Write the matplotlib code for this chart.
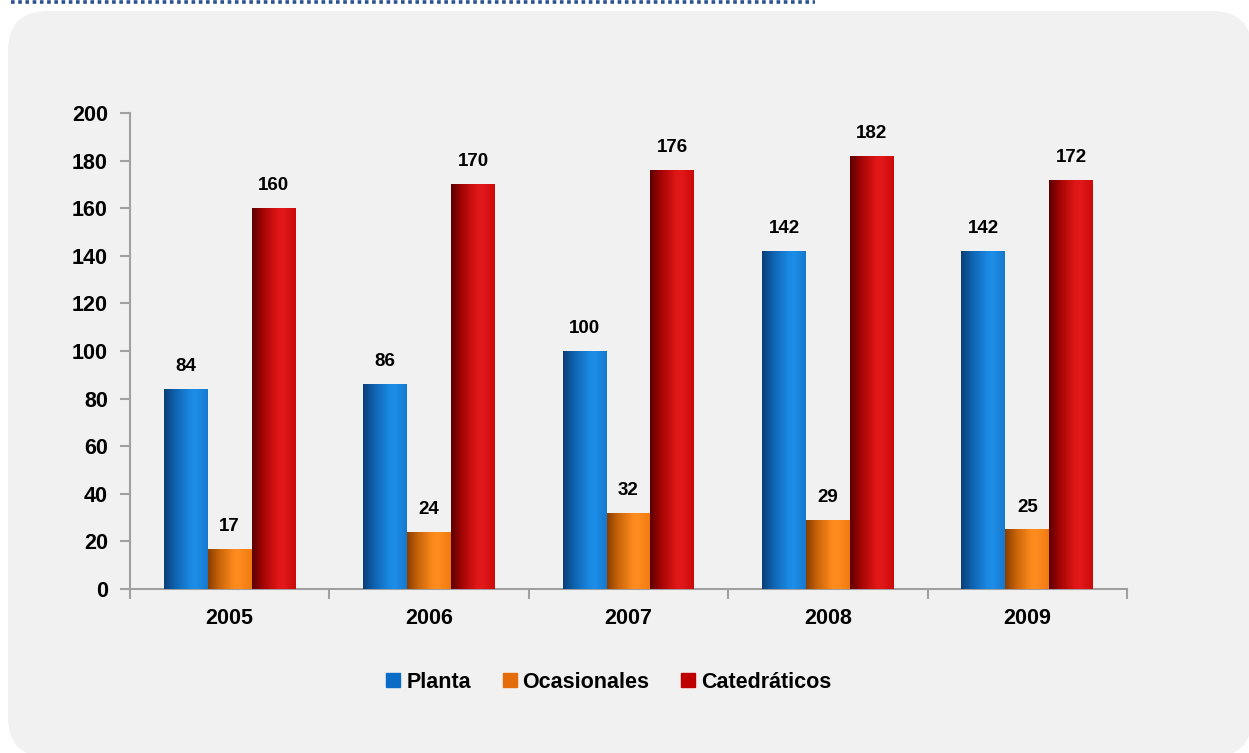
import matplotlib
matplotlib.use('Agg')
import matplotlib.pyplot as plt
import numpy as np
from matplotlib.colors import LinearSegmentedColormap
from matplotlib.patches import FancyBboxPatch
from matplotlib.lines import Line2D

years = ['2005', '2006', '2007', '2008', '2009']
planta = [84, 86, 100, 142, 142]
ocasionales = [17, 24, 32, 29, 25]
catedraticos = [160, 170, 176, 182, 172]
series_names = ['Planta', 'Ocasionales', 'Catedráticos']

plt.rcParams['font.family'] = ['Liberation Sans', 'DejaVu Sans']
plt.rcParams['font.weight'] = 'bold'

flat_colors = ['#0A6CC4', '#E46C0A', '#C00000']
shades = [
    ['#0b3f78', '#0f63b0', '#1a88e2', '#1e8ee8', '#1679cf'],
    ['#8a3e00', '#c8640a', '#ff8a1c', '#ff8c20', '#f07a10'],
    ['#5e0000', '#a50505', '#e01616', '#e2191c', '#cc0a0a'],
]

fig = plt.figure(figsize=(12.49, 7.53), dpi=100)

# background card
bg = fig.add_axes([0, 0, 1, 1], zorder=-1)
bg.set_xlim(0, 1249)
bg.set_ylim(753, 0)
bg.axis('off')
card = FancyBboxPatch((8, 11), 1244, 746, boxstyle='round,pad=0,rounding_size=40',
                      facecolor='#f1f1f1', edgecolor='none')
bg.add_patch(card)
bg.plot([11, 815], [2, 2], color='#2a5190', lw=2.6, linestyle=(0, (1, 1)))

ax = fig.add_axes([0.1041, 0.2178, 0.7982, 0.6322])
ax.set_facecolor('none')

x = np.arange(len(years))
w = 0.22
all_series = [planta, ocasionales, catedraticos]
grad = np.linspace(0, 1, 64).reshape(1, -1)
for i, vals in enumerate(all_series):
    cmap = LinearSegmentedColormap.from_list('s%d' % i, list(zip([0, 0.25, 0.6, 0.72, 1.0], shades[i])))
    bars = ax.bar(x + (i - 1) * w, vals, w, color=flat_colors[i], zorder=2)
    for b, v in zip(bars, vals):
        x0, y0 = b.get_x(), b.get_y()
        im = ax.imshow(grad, cmap=cmap, aspect='auto', extent=[x0, x0 + b.get_width(), y0, y0 + b.get_height()],
                       zorder=3, interpolation='bicubic')
        im.set_clip_path(b)
        ax.annotate(str(v), (b.get_x() + b.get_width() / 2, v), xytext=(0, 10), textcoords='offset points',
                    ha='center', va='bottom', fontsize=13.5, fontweight='bold')

ax.set_xlim(-0.5, len(years) - 0.5)
ax.set_ylim(0, 200)
ax.set_yticks(range(0, 201, 20))
ax.set_xticks(x)
ax.set_xticklabels(years)
ax.set_xticks(np.arange(-0.5, len(years)), minor=True)
ax.tick_params(axis='x', which='major', length=0, pad=14, labelsize=15.5)
ax.tick_params(axis='x', which='minor', length=7, width=1.5, color='#a0a0a0')
ax.tick_params(axis='y', length=7, width=1.5, color='#a0a0a0', pad=9, labelsize=15.5)
for s in ['top', 'right']:
    ax.spines[s].set_visible(False)
for s in ['left', 'bottom']:
    ax.spines[s].set_color('#a0a0a0')
    ax.spines[s].set_linewidth(1.5)
for lab in ax.get_xticklabels() + ax.get_yticklabels():
    lab.set_fontweight('bold')

handles = [Line2D([], [], marker='s', linestyle='none', markersize=10.5, color=c) for c in flat_colors]
fig.legend(handles, series_names, loc='center', bbox_to_anchor=(608 / 1249, 1 - 682 / 753), ncol=3,
           frameon=False, handletextpad=0.2, columnspacing=1.4, handlelength=0.8,
           prop={'weight': 'bold', 'size': 15.5})

fig.savefig('out.png', dpi=100)
